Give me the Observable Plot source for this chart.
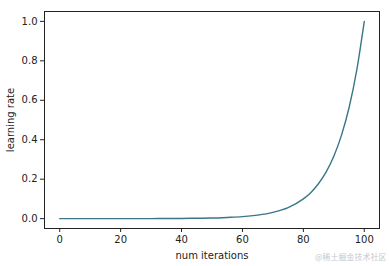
<!DOCTYPE html>
<html>
<head>
<meta charset="utf-8">
<script src="https://cdn.jsdelivr.net/npm/d3@7"></script>
<script src="https://cdn.jsdelivr.net/npm/@observablehq/plot@0.6"></script>
<style>
  html, body { margin: 0; padding: 0; background: #fff; }
  #chart svg { display: block; }
</style>
</head>
<body>
<div id="chart"></div>
<script>
// Values
const iterations = [0, 5, 10, 15, 20, 25, 30, 35, 40, 45, 50, 55, 60, 65, 70, 75, 80, 82.5, 85, 87.5, 90, 92.5, 95, 97.5, 100];
const learningRates = [0.00001, 0.00002, 0.00003, 0.00006, 0.0001, 0.0002, 0.0003, 0.0006, 0.001, 0.002, 0.003, 0.006, 0.01, 0.018, 0.032, 0.056, 0.1, 0.133, 0.178, 0.237, 0.316, 0.422, 0.562, 0.75, 1.0];
const xTicks = [0, 20, 40, 60, 80, 100];
const yTicks = [0.0, 0.2, 0.4, 0.6, 0.8, 1.0];
const xLabel = "num iterations";
const yLabel = "learning rate";
const watermark = "@稀土掘金技术社区";

const data = iterations.map((it, i) => ({it, lr: learningRates[i]}));

const chart = Plot.plot({
  width: 389,
  height: 266,
  marginLeft: 44,
  marginRight: 10,
  marginTop: 11,
  marginBottom: 38,
  style: {fontFamily: "DejaVu Sans", fontSize: "10px", color: "#222", background: "#fff"},
  x: {domain: [-5, 105]},
  y: {domain: [-0.05, 1.05]},
  marks: [
    Plot.frame({stroke: "#222", strokeWidth: 1}),
    Plot.axisX({ticks: xTicks, tickSize: 4, tickPadding: 3, label: xLabel, labelAnchor: "center", labelOffset: 30, labelArrow: false}),
    Plot.axisY({ticks: yTicks, tickSize: 4, tickPadding: 3, tickFormat: d3.format(".1f"), label: yLabel, labelAnchor: "center", labelOffset: 38, labelArrow: false}),
    Plot.line(data, {x: "it", y: "lr", stroke: "#3b7589", strokeWidth: 1.4, curve: "monotone-x"}),
    Plot.text([watermark], {frameAnchor: "bottom-right", text: d => d, dx: 7, dy: 31, fontSize: 8, fill: "#c8c8c8", fontFamily: "Noto Sans CJK SC"})
  ]
});
document.getElementById("chart").append(chart);
</script>
</body>
</html>
